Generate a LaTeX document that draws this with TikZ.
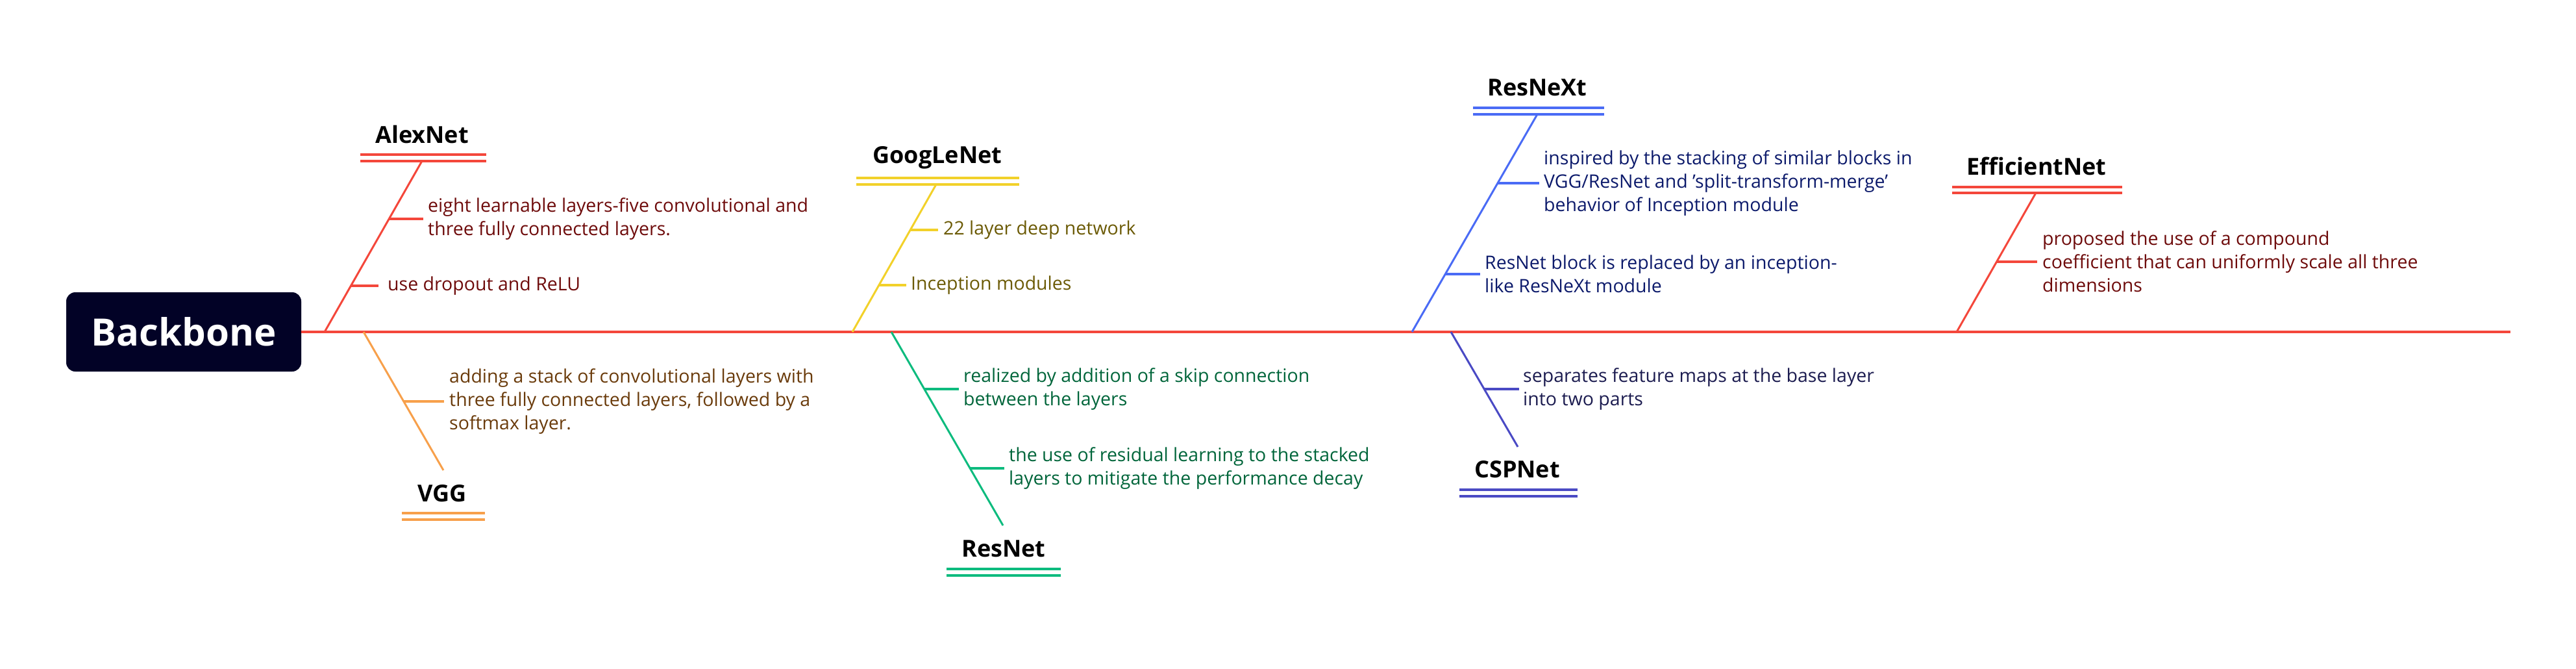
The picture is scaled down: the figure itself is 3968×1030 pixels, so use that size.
\documentclass[tikz,border=0pt]{standalone}
\usepackage{fontspec}
\setmainfont{Open Sans}
\definecolor{spine}{HTML}{F4473B}
\definecolor{alextxt}{HTML}{6E0B0B}
\definecolor{vggln}{HTML}{F7A04B}
\definecolor{vggtxt}{HTML}{6A3B0B}
\definecolor{gooln}{HTML}{F2D12A}
\definecolor{gootxt}{HTML}{6B5A05}
\definecolor{resln}{HTML}{0DBB7E}
\definecolor{restxt}{HTML}{00653A}
\definecolor{rxln}{HTML}{4A6BF5}
\definecolor{rxtxt}{HTML}{0C1A6B}
\definecolor{cspln}{HTML}{4A4AC4}
\definecolor{csptxt}{HTML}{1C1C50}
\definecolor{boxfill}{HTML}{020226}
\begin{document}
\begin{tikzpicture}[x=1pt,y=-1pt,
  title/.style={font=\fontsize{36}{44}\selectfont\bfseries, inner sep=0pt, text=black},
  desc/.style={font=\fontsize{28.5}{36}\selectfont, align=left, anchor=west, inner sep=0pt},
  bone/.style={line width=3pt},
  rib/.style={line width=4pt},
  uline/.style={line width=4pt},
]
\useasboundingbox (0,0) rectangle (3968,1030);

% central box and spine
\node[fill=boxfill, rounded corners=14pt, minimum width=362pt, minimum height=122pt,
      text=white, font=\fontsize{58}{64}\selectfont\bfseries, inner sep=0pt] (bb) at (283,511) {Backbone};
\coordinate (spineend) at (3867,511);
\draw[spine, line width=4pt] (bb.east) -- (spineend);

% ---------------- AlexNet
\node[title] (alex) at (650,207) {AlexNet};
\draw[spine, uline] (555,238) -- (749,238) (555,248) -- (749,248);
\coordinate (alexTop) at (650,248);
\coordinate (alexBot) at (500,511);
\draw[spine, bone] (alexTop) -- (alexBot);
\coordinate (a1s) at (599,337); \coordinate (a1e) at (652,337);
\coordinate (a2s) at (540,440); \coordinate (a2e) at (583,440);
\draw[spine, rib] (a1s) -- (a1e);
\draw[spine, rib] (a2s) -- (a2e);
\node[desc, text=alextxt] (a1t) at (659,337) {eight learnable layers-five convolutional and\\three fully connected layers.};
\node[desc, text=alextxt] (a2t) at (597,440) {use dropout and ReLU};

% ---------------- VGG
\coordinate (vggTop) at (560,511);
\coordinate (vggBot) at (683,724);
\draw[vggln, bone] (vggTop) -- (vggBot);
\node[title] (vgg) at (681,760) {VGG};
\draw[vggln, uline] (619,790) -- (747,790) (619,800) -- (747,800);
\coordinate (v1s) at (622,618); \coordinate (v1e) at (684,618);
\draw[vggln, rib] (v1s) -- (v1e);
\node[desc, text=vggtxt] (v1t) at (692,618) {adding a stack of convolutional layers with\\three fully connected layers, followed by a\\softmax layer.};

% ---------------- GoogLeNet
\node[title] (goo) at (1444,243) {GoogLeNet};
\draw[gooln, uline] (1319,274) -- (1570,274) (1319,284) -- (1570,284);
\coordinate (gooTop) at (1442,284);
\coordinate (gooBot) at (1313,511);
\draw[gooln, bone] (gooTop) -- (gooBot);
\coordinate (g1s) at (1402,354); \coordinate (g1e) at (1445,354);
\coordinate (g2s) at (1354,439); \coordinate (g2e) at (1396,439);
\draw[gooln, rib] (g1s) -- (g1e);
\draw[gooln, rib] (g2s) -- (g2e);
\node[desc, text=gootxt] (g1t) at (1453,354) {22 layer deep network};
\node[desc, text=gootxt] (g2t) at (1403,439) {Inception modules};

% ---------------- ResNet
\coordinate (resTop) at (1373,511);
\coordinate (resBot) at (1545,809);
\draw[resln, bone] (resTop) -- (resBot);
\node[title] (res) at (1546,845) {ResNet};
\draw[resln, uline] (1458,876) -- (1634,876) (1458,886) -- (1634,886);
\coordinate (r1s) at (1424,599); \coordinate (r1e) at (1477,599);
\coordinate (r2s) at (1494,721); \coordinate (r2e) at (1547,721);
\draw[resln, rib] (r1s) -- (r1e);
\draw[resln, rib] (r2s) -- (r2e);
\node[desc, text=restxt] (r1t) at (1484,599) {realized by addition of a skip connection\\between the layers};
\node[desc, text=restxt] (r2t) at (1554,721) {the use of residual learning to the stacked\\layers to mitigate the performance decay};

% ---------------- ResNeXt
\node[title] (rx) at (2368,135) {ResNeXt};
\draw[rxln, uline] (2269,166) -- (2471,166) (2269,176) -- (2471,176);
\coordinate (rxTop) at (2368,176);
\coordinate (rxBot) at (2175,511);
\draw[rxln, bone] (rxTop) -- (rxBot);
\coordinate (x1s) at (2307,282); \coordinate (x1e) at (2371,282);
\coordinate (x2s) at (2226,422); \coordinate (x2e) at (2280,422);
\draw[rxln, rib] (x1s) -- (x1e);
\draw[rxln, rib] (x2s) -- (x2e);
\node[desc, text=rxtxt] (x1t) at (2378,282) {inspired by the stacking of similar blocks in\\VGG/ResNet and 'split-transform-merge'\\behavior of Inception module};
\node[desc, text=rxtxt] (x2t) at (2287,422) {ResNet block is replaced by an inception-\\like ResNeXt module};

% ---------------- CSPNet
\coordinate (cspTop) at (2235,511);
\coordinate (cspBot) at (2338,688);
\draw[cspln, bone] (cspTop) -- (cspBot);
\node[title] (csp) at (2337,723) {CSPNet};
\draw[cspln, uline] (2248,754) -- (2430,754) (2248,764) -- (2430,764);
\coordinate (c1s) at (2286,599); \coordinate (c1e) at (2340,599);
\draw[cspln, rib] (c1s) -- (c1e);
\node[desc, text=csptxt] (c1t) at (2346,599) {separates feature maps at the base layer\\into two parts};

% ---------------- EfficientNet
\node[title] (eff) at (3137,256) {EfficientNet};
\draw[spine, uline] (3007,288) -- (3269,288) (3007,297) -- (3269,297);
\coordinate (effTop) at (3136,297);
\coordinate (effBot) at (3014,511);
\draw[spine, bone] (effTop) -- (effBot);
\coordinate (e1s) at (3076,403); \coordinate (e1e) at (3138,403);
\draw[spine, rib] (e1s) -- (e1e);
\node[desc, text=alextxt] (e1t) at (3146,403) {proposed the use of a compound\\coefficient that can uniformly scale all three\\dimensions};
\end{tikzpicture}
\end{document}
